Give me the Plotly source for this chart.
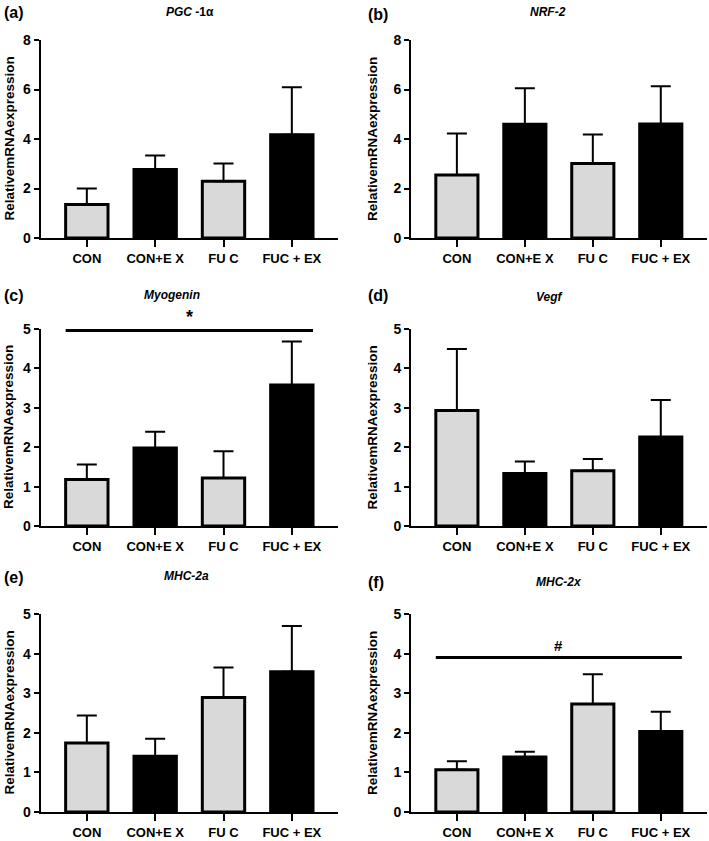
import plotly.graph_objects as go

categories = ["CON", "CON+E X", "FU C", "FUC + EX"]
bar_colors = ["#d9d9d9", "#000000", "#d9d9d9", "#000000"]

panel_labels = ["(a)", "(b)", "(c)", "(d)", "(e)", "(f)"]
gene_titles = ["<i>PGC</i> -1α", "<i>NRF-2</i>", "<i>Myogenin</i>", "<i>Vegf</i>", "<i>MHC-2a</i>", "<i>MHC-2x</i>"]
y_title = "RelativemRNAexpression"

pgc_mean = [1.35, 2.77, 2.29, 4.17]
pgc_sem = [0.65, 0.56, 0.72, 1.92]
nrf_mean = [2.55, 4.60, 3.01, 4.61]
nrf_sem = [1.67, 1.45, 1.17, 1.52]
myog_mean = [1.18, 1.98, 1.22, 3.58]
myog_sem = [0.38, 0.41, 0.68, 1.10]
vegf_mean = [2.93, 1.33, 1.40, 2.26]
vegf_sem = [1.56, 0.31, 0.30, 0.94]
mhc2a_mean = [1.74, 1.41, 2.89, 3.54]
mhc2a_sem = [0.70, 0.44, 0.76, 1.16]
mhc2x_mean = [1.07, 1.39, 2.73, 2.03]
mhc2x_sem = [0.21, 0.13, 0.75, 0.50]

means = [pgc_mean, nrf_mean, myog_mean, vegf_mean, mhc2a_mean, mhc2x_mean]
sems = [pgc_sem, nrf_sem, myog_sem, vegf_sem, mhc2a_sem, mhc2x_sem]
y_max = [8, 8, 5, 5, 5, 5]
y_dtick = [2, 2, 1, 1, 1, 1]

# significance brackets: panel index -> (y value, symbol)
sig = {2: (4.96, "*"), 5: (3.9, "#")}

W, H = 709, 841
x_dom_px = [(40.7, 338.3), (411, 707)]
y_dom_px = [(40, 238), (329, 526), (614, 812)]
ytitle_x = [8.5, 372]
label_x = [2, 366]
title_x = [[190, 548], [172, 549], [187, 559]]
title_y = [[12, 12], [295, 297], [576, 582]]
label_y = [[12, 14], [295, 295], [577, 582]]

FONT = "Liberation Sans, Arial, sans-serif"
fig = go.Figure()
layout = dict(
    width=W, height=H, margin=dict(l=0, r=0, t=0, b=0),
    paper_bgcolor="white", plot_bgcolor="white", showlegend=False,
    font=dict(family=FONT, color="black"),
)
annotations = []
shapes = []
for i in range(6):
    row, col = divmod(i, 2)
    xa = "x" if i == 0 else f"x{i+1}"
    ya = "y" if i == 0 else f"y{i+1}"
    xkey = "xaxis" if i == 0 else f"xaxis{i+1}"
    ykey = "yaxis" if i == 0 else f"yaxis{i+1}"
    fig.add_trace(go.Bar(
        x=categories, y=means[i], xaxis=xa, yaxis=ya,
        marker=dict(color=bar_colors, line=dict(color="black", width=3)),
        width=0.62,
        error_y=dict(type="data", symmetric=False, array=sems[i],
                     arrayminus=[0] * 4, color="black", thickness=2, width=10),
    ))
    x0, x1 = x_dom_px[col]
    y0, y1 = y_dom_px[row]
    layout[xkey] = dict(
        domain=[x0 / W, x1 / W], anchor=ya, type="category", automargin=False,
        range=[-0.675, 3.68], showline=True, linecolor="black", linewidth=2,
        ticks="outside", ticklen=7, tickwidth=2, tickcolor="black",
        showgrid=False, zeroline=False,
        tickfont=dict(family=FONT, size=13, weight="bold", color="black"),
    )
    layout[ykey] = dict(
        domain=[1 - y1 / H, 1 - y0 / H], anchor=xa, automargin=False,
        range=[0, y_max[i]], dtick=y_dtick[i], showline=True,
        linecolor="black", linewidth=2, ticks="outside", ticklen=5,
        tickwidth=2, tickcolor="black", showgrid=False, zeroline=False,
        tickfont=dict(family=FONT, size=14, weight="bold", color="black"),
    )
    # y-axis title
    annotations.append(dict(
        text=f"<b>{y_title}</b>", xref="paper", yref="paper",
        x=ytitle_x[col] / W, y=1 - (y0 + y1) / 2 / H, textangle=-90,
        xanchor="center", yanchor="middle", showarrow=False,
        font=dict(family=FONT, size=13.5, color="black"),
    ))
    # panel label
    annotations.append(dict(
        text=f"<b>{panel_labels[i]}</b>", xref="paper", yref="paper",
        x=label_x[col] / W, y=1 - label_y[row][col] / H,
        xanchor="left", yanchor="middle",
        showarrow=False, font=dict(family=FONT, size=16, color="black"),
    ))
    annotations.append(dict(
        text=f"<b>{gene_titles[i]}</b>", xref="paper", yref="paper",
        x=title_x[row][col] / W, y=1 - title_y[row][col] / H,
        xanchor="center", yanchor="middle",
        showarrow=False, font=dict(family=FONT, size=12, color="black"),
    ))
    if i in sig:
        yv, sym = sig[i]
        shapes.append(dict(type="line", xref=xa, yref=ya, x0=-0.31, x1=3.31,
                           y0=yv, y1=yv, line=dict(color="black", width=3)))
        annotations.append(dict(
            text=f"<b>{sym}</b>", xref=xa, yref=ya, x=1.5, y=yv,
            yanchor="bottom", yshift=2, showarrow=False,
            font=dict(family=FONT, size=18 if sym == "*" else 15, color="black"),
        ))

layout["annotations"] = annotations
layout["shapes"] = shapes
fig.update_layout(**layout)
fig.write_html("out.html", config={"displayModeBar": False},
               post_script="document.body.style.margin='0px';")
